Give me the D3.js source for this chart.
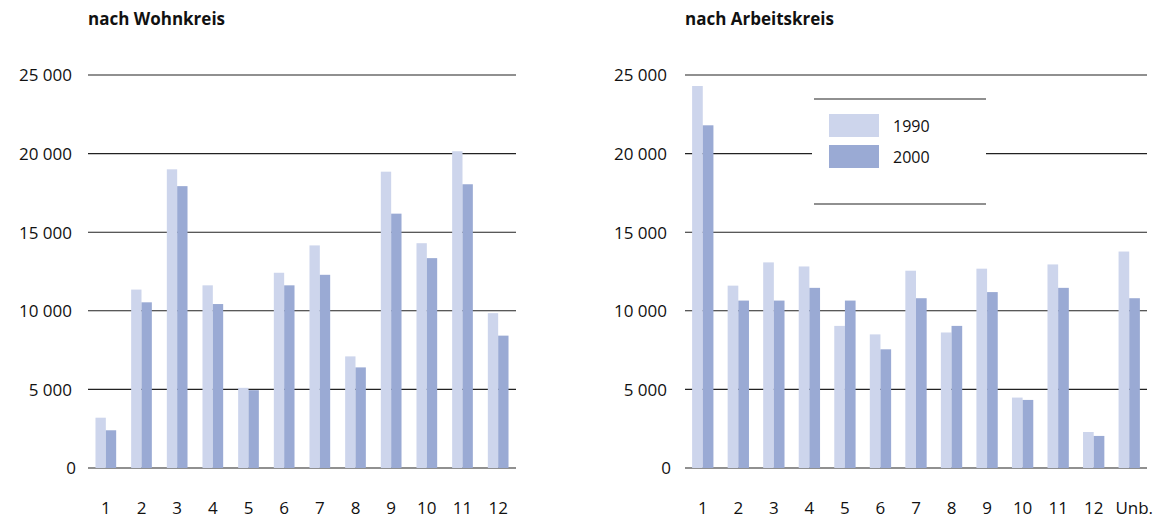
<!DOCTYPE html>
<html>
<head>
<meta charset="utf-8">
<script src="https://cdn.jsdelivr.net/npm/d3@7/dist/d3.min.js"></script>
<style>
  html, body { margin: 0; padding: 0; background: #fff; }
  svg { display: block; font-family: "Open Sans", "Noto Sans", sans-serif; }
</style>
</head>
<body>
<svg id="chart" width="1173" height="521"></svg>
<script>
// Pendler nach Kreis, 1990 und 2000
const years = ["1990", "2000"];
const yTicks = [0, 5000, 10000, 15000, 20000, 25000];

const wohnKreise = ["1", "2", "3", "4", "5", "6", "7", "8", "9", "10", "11", "12"];
const wohn1990 = [3200, 11350, 19000, 11620, 5100, 12420, 14160, 7100, 18850, 14300, 20150, 9850];
const wohn2000 = [2400, 10540, 17930, 10430, 4950, 11620, 12290, 6400, 16180, 13350, 18050, 8420];

const arbeitKreise = ["1", "2", "3", "4", "5", "6", "7", "8", "9", "10", "11", "12", "Unb."];
const arbeit1990 = [24300, 11600, 13080, 12820, 9040, 8500, 12550, 8620, 12680, 4480, 12950, 2290, 13770];
const arbeit2000 = [21800, 10650, 10650, 11460, 10650, 7550, 10800, 9040, 11190, 4330, 11460, 2040, 10800];

const colors = { "1990": "#cdd5ec", "2000": "#9aaad4" };
const fmt = v => v === 0 ? "0" : d3.format(",")(v).replace(/,/g, "\u00a0");

const svg = d3.select("#chart");

function panel(opts) {
  const { title, cats, s1990, s2000, x0, x1, labelX } = opts;
  const g = svg.append("g");
  const y = d3.scaleLinear().domain([0, 25000]).range([468, 75]);
  const x = d3.scaleBand().domain(cats).range([x0, x1])
    .paddingInner(opts.pad).paddingOuter(opts.pad / 2);
  const xs = d3.scaleBand().domain(years).range([0, x.bandwidth()]);

  g.append("text")
    .attr("x", x0).attr("y", 25)
    .attr("font-size", 17).attr("font-weight", 700)
    .attr("fill", "#111")
    .text(title);

  // horizontal grid
  g.selectAll("line.grid").data(yTicks).join("line")
    .attr("class", "grid")
    .attr("x1", x0).attr("x2", x1)
    .attr("y1", d => y(d)).attr("y2", d => y(d))
    .attr("stroke", "#222").attr("stroke-width", 1.1);

  // y labels
  g.selectAll("text.ytick").data(yTicks).join("text")
    .attr("class", "ytick")
    .attr("x", d => labelX + (d === 0 ? 4 : 0))
    .attr("y", d => y(d))
    .attr("dy", "0.38em")
    .attr("text-anchor", "end")
    .attr("font-size", 17).attr("fill", "#111")
    .text(fmt);

  const rows = cats.map((c, i) => ({ cat: c, vals: [
    { year: "1990", v: s1990[i] }, { year: "2000", v: s2000[i] } ] }));

  const grp = g.selectAll("g.grp").data(rows).join("g")
    .attr("class", "grp")
    .attr("transform", d => `translate(${x(d.cat)},0)`);
  grp.selectAll("rect").data(d => d.vals).join("rect")
    .attr("x", d => xs(d.year))
    .attr("width", xs.bandwidth())
    .attr("y", d => y(d.v))
    .attr("height", d => y(0) - y(d.v))
    .attr("fill", d => colors[d.year]);

  // category labels
  g.selectAll("text.xtick").data(cats).join("text")
    .attr("class", "xtick")
    .attr("x", d => x(d) + x.bandwidth() / 2 + (d.length > 2 ? 5 : 0))
    .attr("y", 514)
    .attr("text-anchor", "middle")
    .attr("font-size", 17).attr("fill", "#111")
    .text(d => d);

  return g;
}

panel({ title: "nach Wohnkreis", cats: wohnKreise, s1990: wohn1990, s2000: wohn2000,
        x0: 88, x1: 516, labelX: 72, pad: 0.42 });
const right = panel({ title: "nach Arbeitskreis", cats: arbeitKreise, s1990: arbeit1990, s2000: arbeit2000,
        x0: 685, x1: 1147, labelX: 667, pad: 0.40 });

// legend
const lg = right.append("g");
lg.append("rect").attr("x", 812).attr("y", 99).attr("width", 174).attr("height", 105).attr("fill", "#fff");
[99, 204].forEach(yy => lg.append("line")
  .attr("x1", 814).attr("x2", 986).attr("y1", yy).attr("y2", yy)
  .attr("stroke", "#222").attr("stroke-width", 1.1));
years.forEach((yr, i) => {
  lg.append("rect").attr("x", 829).attr("y", 114 + i * 31)
    .attr("width", 50).attr("height", 23).attr("fill", colors[yr]);
  lg.append("text").attr("x", 893).attr("y", 132 + i * 31)
    .attr("font-size", 16).attr("fill", "#111").text(yr);
});
</script>
</body>
</html>
